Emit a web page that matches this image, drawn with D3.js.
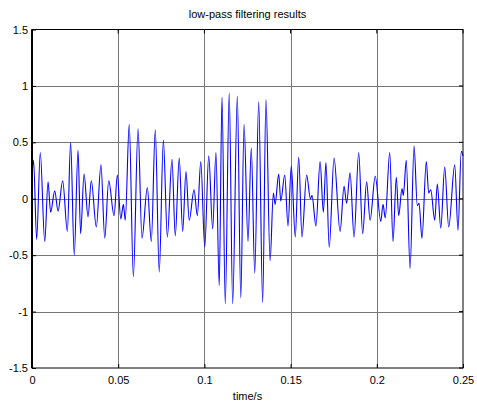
<!DOCTYPE html>
<html>
<head>
  <meta charset="utf-8">
  <title>low-pass filtering results</title>
  <script src="https://d3js.org/d3.v7.min.js"></script>
  <style>
    body { margin: 0; background: #fff; }
    svg text { font-family: "Liberation Sans", Arial, sans-serif; }
  </style>
</head>
<body>
  <svg id="chart" width="477" height="407"></svg>

  <script>
    // peak/trough readings of the filtered signal (time in s, amplitude)
    const times = [
      0.0000, 0.0009, 0.0027, 0.0048, 0.0074, 0.0093, 0.0108, 0.0132, 0.0151, 0.0178,
      0.0205, 0.0224, 0.0245, 0.0267, 0.0282, 0.0302, 0.0325, 0.0344, 0.0373, 0.0400,
      0.0422, 0.0445, 0.0476, 0.0495, 0.0515, 0.0530, 0.0541, 0.0564, 0.0588, 0.0615,
      0.0638, 0.0669, 0.0692, 0.0715, 0.0738, 0.0762, 0.0785, 0.0812, 0.0831, 0.0854,
      0.0874, 0.0893, 0.0912, 0.0940, 0.0959, 0.0979, 0.1002, 0.1025, 0.1048, 0.1067,
      0.1086, 0.1102, 0.1121, 0.1144, 0.1164, 0.1191, 0.1211, 0.1230, 0.1253, 0.1272,
      0.1292, 0.1315, 0.1338, 0.1357, 0.1381, 0.1400, 0.1410, 0.1431, 0.1443, 0.1466,
      0.1485, 0.1504, 0.1527, 0.1547, 0.1566, 0.1593, 0.1615, 0.1624, 0.1647, 0.1671,
      0.1690, 0.1705, 0.1724, 0.1752, 0.1787, 0.1810, 0.1825, 0.1845, 0.1868, 0.1895,
      0.1918, 0.1941, 0.1961, 0.1991, 0.2023, 0.2036, 0.2049, 0.2075, 0.2094, 0.2113,
      0.2127, 0.2146, 0.2154, 0.2171, 0.2193, 0.2216, 0.2235, 0.2245, 0.2262, 0.2287,
      0.2301, 0.2313, 0.2336, 0.2351, 0.2371, 0.2394, 0.2417, 0.2452, 0.2471, 0.2490,
      0.2500
    ];
    const values = [
       0.20,  0.34, -0.36,  0.41, -0.38,  0.15, -0.12,  0.07, -0.11,  0.16,
      -0.29,  0.50, -0.50,  0.43, -0.31,  0.22, -0.16,  0.16, -0.25,  0.30,
      -0.35,  0.16, -0.15,  0.21, -0.18, -0.05, -0.19,  0.66, -0.69,  0.62,
      -0.35,  0.10, -0.38,  0.61, -0.65,  0.52, -0.34,  0.35, -0.33,  0.36,
      -0.29,  0.24, -0.19,  0.08, -0.15,  0.33, -0.43,  0.38, -0.27,  0.41,
      -0.77,  0.90, -0.93,  0.94, -0.93,  0.91, -0.88,  0.66, -0.38,  0.45,
      -0.66,  0.86, -0.92,  0.88, -0.55,  0.05, -0.05,  0.22, -0.02,  0.21,
      -0.24,  0.29, -0.34,  0.37, -0.34,  0.21,  0.00,  0.03, -0.24,  0.33,
      -0.12,  0.32, -0.43,  0.36, -0.29,  0.11, -0.04,  0.23, -0.34,  0.41,
      -0.31,  0.15, -0.19,  0.20, -0.20, -0.05, -0.17,  0.41, -0.38,  0.19,
      -0.15,  0.09,  0.03,  0.34, -0.62,  0.47, -0.06, -0.04, -0.35,  0.33,
       0.05,  0.08, -0.19,  0.13, -0.26,  0.28, -0.25,  0.30, -0.28,  0.42,
       0.38
    ];
    const xTicks = [0, 0.05, 0.1, 0.15, 0.2, 0.25];
    const yTicks = [-1.5, -1, -0.5, 0, 0.5, 1, 1.5];

    const svg = d3.select("#chart");
    const mLeft = 32, mRight = 463, mTop = 29.5, mBottom = 368;

    const x = d3.scaleLinear().domain([0, 0.25]).range([mLeft, mRight]);
    const y = d3.scaleLinear().domain([-1.5, 1.5]).range([mBottom, mTop]);

    // grid
    svg.append("g").selectAll("line").data(xTicks.slice(1, -1)).join("line")
      .attr("x1", d => Math.round(x(d)) + 0.5).attr("x2", d => Math.round(x(d)) + 0.5)
      .attr("y1", mTop).attr("y2", mBottom)
      .attr("stroke", "#777").attr("stroke-width", 1);
    svg.append("g").selectAll("line").data(yTicks.slice(1, -1)).join("line")
      .attr("y1", d => Math.round(y(d)) + 0.5).attr("y2", d => Math.round(y(d)) + 0.5)
      .attr("x1", mLeft).attr("x2", mRight)
      .attr("stroke", "#777").attr("stroke-width", 1);

    // signal
    const line = d3.line()
      .x((d, i) => x(times[i]))
      .y(d => y(d))
      .curve(d3.curveMonotoneX);

    svg.append("path")
      .datum(values)
      .attr("fill", "none")
      .attr("stroke", "#0000ff")
      .attr("stroke-width", 1.1)
      .attr("d", line);

    // box
    svg.append("rect")
      .attr("x", mLeft).attr("y", mTop)
      .attr("width", mRight - mLeft).attr("height", mBottom - mTop)
      .attr("fill", "none").attr("stroke", "#000").attr("stroke-width", 1);
    svg.append("line")
      .attr("x1", mLeft).attr("x2", mLeft).attr("y1", mTop).attr("y2", mBottom)
      .attr("stroke", "#000").attr("stroke-width", 2);

    // axes with inward ticks, plain hyphen minus like MATLAB
    const fmt = d => String(d);

    const xAxis = d3.axisBottom(x).tickValues(xTicks).tickSize(-4).tickPadding(8)
      .tickFormat(fmt);
    svg.append("g").attr("transform", `translate(0,${mBottom})`).call(xAxis)
      .call(g => g.select(".domain").remove())
      .call(g => g.selectAll("text").attr("font-size", 11).attr("fill", "#000")
        .attr("font-family", "Liberation Sans, Arial, sans-serif"));

    const yAxis = d3.axisLeft(y).tickValues(yTicks).tickSize(-4).tickPadding(4)
      .tickFormat(fmt);
    svg.append("g").attr("transform", `translate(${mLeft},0)`).call(yAxis)
      .call(g => g.select(".domain").remove())
      .call(g => g.selectAll("text").attr("font-size", 11).attr("fill", "#000")
        .attr("font-family", "Liberation Sans, Arial, sans-serif"));

    // ticks on top and right edges
    svg.append("g").selectAll("line").data(xTicks).join("line")
      .attr("x1", d => x(d)).attr("x2", d => x(d))
      .attr("y1", mTop).attr("y2", mTop + 4).attr("stroke", "#000");
    svg.append("g").selectAll("line").data(yTicks).join("line")
      .attr("y1", d => y(d)).attr("y2", d => y(d))
      .attr("x1", mRight).attr("x2", mRight - 4).attr("stroke", "#000");

    svg.append("text")
      .attr("x", (mLeft + mRight) / 2).attr("y", 18)
      .attr("text-anchor", "middle").attr("font-size", 11)
      .text("low-pass filtering results");

    svg.append("text")
      .attr("x", (mLeft + mRight) / 2).attr("y", 400)
      .attr("text-anchor", "middle").attr("font-size", 11)
      .text("time/s");
  </script>
</body>
</html>
